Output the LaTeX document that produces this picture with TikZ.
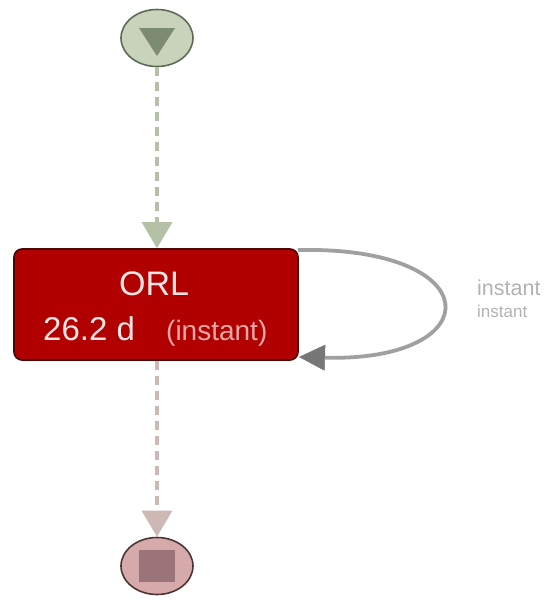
\documentclass[tikz,border=0pt]{standalone}
\usepackage{fontspec}
\setmainfont{Liberation Sans}
\usetikzlibrary{arrows.meta,shapes.geometric}
\definecolor{startfill}{HTML}{C9D3BC}
\definecolor{startline}{HTML}{5E6B55}
\definecolor{startmark}{HTML}{7D8B70}
\definecolor{startedge}{HTML}{B4C1A6}
\definecolor{taskfill}{HTML}{B00000}
\definecolor{taskline}{HTML}{4A0505}
\definecolor{titletext}{HTML}{F8E4E4}
\definecolor{kindtext}{HTML}{E8A6A6}
\definecolor{endfill}{HTML}{D6AAAA}
\definecolor{endline}{HTML}{4E3434}
\definecolor{endmark}{HTML}{9A7478}
\definecolor{endedge}{HTML}{CDB8B4}
\definecolor{loopedge}{HTML}{A0A0A0}
\definecolor{looptip}{HTML}{777777}
\definecolor{labelgray}{HTML}{B2B2B2}
\tikzset{
  eventnode/.style={ellipse, minimum width=72pt, minimum height=57pt, line width=1.6pt, inner sep=0pt},
  taskbox/.style={draw=taskline, fill=taskfill, line width=1.6pt, rounded corners=8pt,
    minimum width=284pt, minimum height=111pt, inner sep=0pt},
  flowedge/.style={line width=3.5pt, dash pattern=on 9pt off 6pt,
    -{Triangle[length=26pt,width=30pt]}},
  loopedge/.style={line width=3.8pt, draw=loopedge,
    -{Triangle[length=26pt,width=26pt,color=looptip,fill=looptip,line width=0.5pt]}},
  boxtext/.style={anchor=base west, inner sep=0pt},
}
\begin{document}
\begin{tikzpicture}[x=1pt,y=-1pt]
\useasboundingbox (0,0) rectangle (546,600);
% start event
\node[eventnode, draw=startline, fill=startfill] (start) at (157,38) {};
\fill[startmark] (139,28) -- (175,28) -- (157,56) -- cycle;
% task
\node[taskbox] (task) at (156,304.5) {};
\node[boxtext, text=titletext, font=\fontsize{34pt}{36pt}\selectfont] (title) at (119,295) {ORL};
\node[boxtext, text=titletext, font=\fontsize{33pt}{35pt}\selectfont] (dur) at (43,340) {26.2 d};
\node[boxtext, text=kindtext, font=\fontsize{28pt}{30pt}\selectfont] (kind) at (166,340) {(instant)};
% end event
\node[eventnode, draw=endline, fill=endfill] (end) at (157,566) {};
\fill[endmark] (139,550) rectangle (175,582);
% flows
\draw[flowedge, draw=startedge, color=startedge] (start.south) -- (task.north -| start.south);
\draw[flowedge, draw=endedge, color=endedge] (task.south -| end.north) -- (end.north);
% self loop
\coordinate (loopout) at (298,250);
\coordinate (loopin) at (299,357);
\draw[loopedge] (loopout) .. controls (490,246) and (490,362) .. (loopin);
\node[boxtext, text=labelgray, font=\fontsize{21.5pt}{23pt}\selectfont] (lab1) at (477,295) {instant};
\node[boxtext, text=labelgray, font=\fontsize{17pt}{19pt}\selectfont] (lab2) at (477,317) {instant};
\end{tikzpicture}
\end{document}
